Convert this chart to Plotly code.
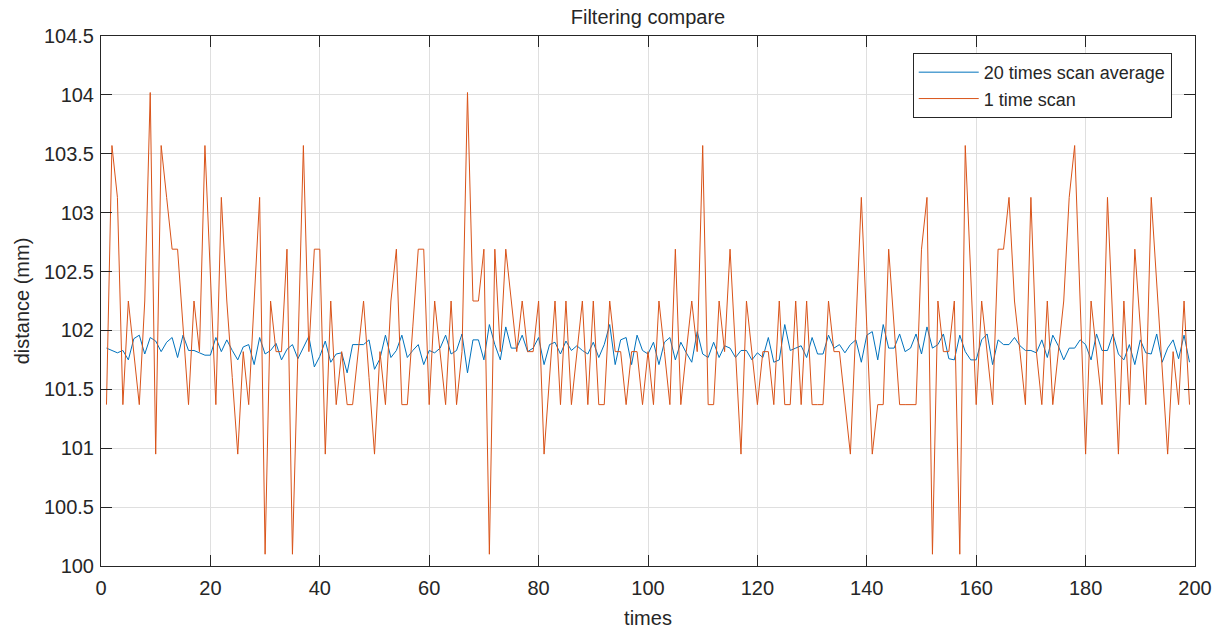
import plotly.graph_objects as go

times = list(range(1, 200))

scan_1 = [
    101.37, 103.57, 103.13, 101.37, 102.25, 101.82, 101.37, 102.25, 104.02, 100.95,
    103.57, 103.13, 102.69, 102.69, 102.03, 101.37, 102.25, 101.82, 103.57, 102.47,
    101.37, 103.13, 102.25, 101.60, 100.95, 101.82, 101.37, 102.25, 103.13, 100.10,
    102.25, 101.82, 101.82, 102.69, 100.10, 101.82, 103.57, 101.82, 102.69, 102.69,
    100.95, 102.25, 101.37, 101.82, 101.37, 101.37, 101.82, 102.25, 101.60, 100.95,
    101.82, 101.37, 102.25, 102.69, 101.37, 101.37, 102.03, 102.69, 102.69, 101.37,
    102.25, 101.82, 101.37, 102.25, 101.37, 101.82, 104.02, 102.25, 102.25, 102.69,
    100.10, 102.69, 101.82, 102.69, 102.25, 101.82, 102.25, 101.82, 101.82, 102.25,
    100.95, 101.60, 102.25, 101.37, 102.25, 101.37, 101.82, 102.25, 101.37, 102.25,
    101.37, 101.37, 102.25, 101.82, 101.82, 101.37, 101.82, 101.82, 101.37, 101.82,
    101.37, 102.25, 101.82, 101.37, 102.69, 101.37, 101.82, 102.25, 101.82, 103.57,
    101.37, 101.37, 102.25, 101.82, 102.69, 101.82, 100.95, 102.25, 101.82, 101.37,
    101.82, 101.82, 101.37, 102.25, 101.37, 101.37, 102.25, 101.37, 102.25, 101.37,
    101.37, 101.37, 102.25, 101.82, 101.82, 101.37, 100.95, 102.03, 103.13, 102.03,
    100.95, 101.37, 101.37, 102.69, 102.03, 101.37, 101.37, 101.37, 101.37, 102.69,
    103.13, 100.10, 102.25, 101.82, 101.82, 102.25, 100.10, 103.57, 102.47, 101.37,
    102.25, 101.82, 101.37, 102.69, 102.69, 103.13, 102.25, 101.82, 101.37, 103.13,
    101.82, 101.37, 102.25, 101.37, 101.82, 102.25, 103.13, 103.57, 102.25, 100.95,
    102.25, 101.82, 101.37, 103.13, 102.03, 100.95, 102.25, 101.37, 102.69, 102.03,
    101.37, 103.13, 102.40, 101.60, 100.95, 101.82, 101.37, 102.25, 101.37,
]

scan_20_avg = [
    101.85, 101.83, 101.81, 101.83, 101.75, 101.93, 101.96, 101.80, 101.94, 101.91,
    101.82, 101.90, 101.94, 101.77, 101.96, 101.83, 101.83, 101.81, 101.79, 101.79,
    101.94, 101.82, 101.92, 101.83, 101.75, 101.86, 101.88, 101.71, 101.94, 101.80,
    101.83, 101.89, 101.75, 101.84, 101.88, 101.76, 101.85, 101.95, 101.69, 101.78,
    101.91, 101.73, 101.80, 101.81, 101.64, 101.88, 101.88, 101.88, 101.92, 101.67,
    101.76, 101.96, 101.77, 101.83, 101.96, 101.77, 101.83, 101.88, 101.71, 101.83,
    101.81, 101.85, 101.96, 101.80, 101.83, 101.97, 101.64, 101.92, 101.92, 101.75,
    102.05, 101.88, 101.75, 102.03, 101.85, 101.85, 101.96, 101.82, 101.85, 101.94,
    101.71, 101.88, 101.90, 101.80, 101.91, 101.83, 101.87, 101.83, 101.80, 101.90,
    101.77, 101.88, 102.05, 101.71, 101.92, 101.94, 101.71, 101.96, 101.83, 101.80,
    101.90, 101.71, 101.90, 101.94, 101.75, 101.90, 101.81, 101.73, 101.99, 101.80,
    101.77, 101.90, 101.77, 101.87, 101.85, 101.77, 101.83, 101.83, 101.75, 101.81,
    101.77, 101.94, 101.73, 101.75, 102.05, 101.83, 101.85, 101.87, 101.77, 101.94,
    101.80, 101.80, 101.96, 101.85, 101.88, 101.81, 101.88, 101.92, 101.73, 101.96,
    101.99, 101.75, 102.05, 101.85, 101.85, 101.97, 101.82, 101.85, 101.97, 101.80,
    102.03, 101.85, 101.88, 101.97, 101.76, 101.75, 101.96, 101.82, 101.75, 101.75,
    101.92, 101.97, 101.71, 101.92, 101.88, 101.88, 101.94, 101.87, 101.83, 101.83,
    101.81, 101.92, 101.77, 101.96, 101.87, 101.75, 101.85, 101.85, 101.92, 101.88,
    101.75, 101.97, 101.83, 101.83, 101.97, 101.80, 101.75, 101.88, 101.71, 101.92,
    101.81, 101.80, 101.97, 101.73, 101.85, 101.92, 101.76, 101.96, 101.73,
]

x_ticks = [0, 20, 40, 60, 80, 100, 120, 140, 160, 180, 200]
y_ticks = [100, 100.5, 101, 101.5, 102, 102.5, 103, 103.5, 104, 104.5]
y_tick_text = ["100", "100.5", "101", "101.5", "102", "102.5", "103", "103.5", "104", "104.5"]

FONT = "Liberation Sans, Arial, Helvetica, sans-serif"
TXT = "#262626"

fig = go.Figure()
fig.add_trace(go.Scatter(x=times, y=scan_20_avg, mode="lines", name="20 times scan average",
                         line=dict(color="#0072BD", width=1)))
fig.add_trace(go.Scatter(x=times, y=scan_1, mode="lines", name="1 time scan",
                         line=dict(color="#D95319", width=1)))

axis_common = dict(
    showline=True, linecolor=TXT, linewidth=1, mirror="ticks",
    ticks="inside", ticklen=11, tickcolor=TXT, tickwidth=1,
    showgrid=True, gridcolor="#dfdfdf", gridwidth=1, zeroline=False,
    tickfont=dict(family=FONT, size=20, color=TXT), automargin=False,
)

fig.update_layout(
    width=1221, height=630,
    margin=dict(l=101, r=26, t=36, b=64, autoexpand=False),
    paper_bgcolor="white", plot_bgcolor="white",
    font=dict(family=FONT, size=20, color=TXT),
    title=dict(text="Filtering compare", x=0.5, xanchor="center", xref="paper",
               y=1 - 17 / 630, yref="container", yanchor="middle", automargin=False,
               font=dict(family=FONT, size=20, color=TXT)),
    xaxis=dict(range=[0, 200], tickvals=x_ticks, title=dict(text="times", standoff=12,
               font=dict(family=FONT, size=20, color=TXT)), ticklabelstandoff=4, **axis_common),
    yaxis=dict(range=[100, 104.5], tickvals=y_ticks, ticktext=y_tick_text,
               title=dict(text="distance (mm)", standoff=8, font=dict(family=FONT, size=20, color=TXT)),
               ticklabelstandoff=2, **axis_common),
    legend=dict(x=0.742, y=0.968, xanchor="left", yanchor="top",
                bgcolor="white", bordercolor=TXT, borderwidth=1, itemwidth=60,
                font=dict(family=FONT, size=18, color=TXT), tracegroupgap=0),
    showlegend=True,
)

fig.write_html("out.html", config={"displayModeBar": False},
               post_script="document.body.style.margin='0';")
